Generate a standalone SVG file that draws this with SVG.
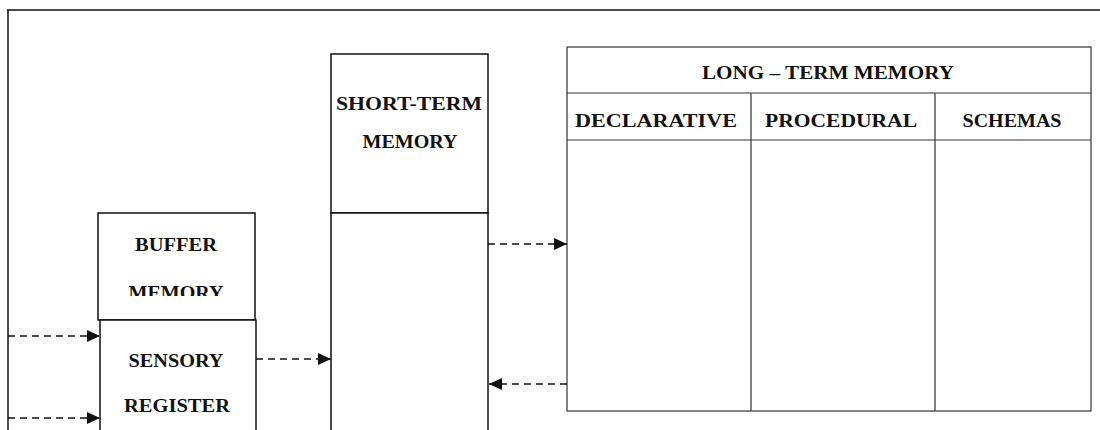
<svg xmlns="http://www.w3.org/2000/svg" width="1100" height="430" viewBox="0 0 1100 430">
  <defs>
    <style>
      .box { fill: #ffffff; stroke: #111111; stroke-width: 1.5; }
      .thin { fill: none; stroke: #333333; stroke-width: 1.2; }
      .lbl { font-family: "Liberation Serif", "Times New Roman", serif; font-weight: bold; font-size: 19px; fill: #111111; text-anchor: middle; }
      .dash { fill: none; stroke: #111111; stroke-width: 1.5; stroke-dasharray: 7 5; }
    </style>
    <marker id="ah" viewBox="0 0 13 12" refX="13" refY="6" markerWidth="13" markerHeight="12" markerUnits="userSpaceOnUse" orient="auto">
      <path d="M0,0 L13,6 L0,12 Z" fill="#111111"/>
    </marker>
    <clipPath id="bufclip">
      <rect x="98" y="213" width="157" height="83"/>
    </clipPath>
  </defs>
  <rect x="0" y="0" width="1100" height="430" fill="#ffffff"/>

  <g id="frame">
    <path d="M7,10 H1100 M8,10 V430" class="box" fill="none"/>
  </g>

  <g id="buffer-memory">
    <rect x="98" y="213" width="157" height="107" class="box"/>
    <text class="lbl" x="176" y="251" textLength="82" lengthAdjust="spacingAndGlyphs">BUFFER</text>
    <text class="lbl" x="176" y="299" textLength="95" lengthAdjust="spacingAndGlyphs" clip-path="url(#bufclip)">MEMORY</text>
  </g>

  <g id="sensory-register">
    <rect x="100" y="320" width="156" height="120" class="box"/>
    <text class="lbl" x="176" y="367" textLength="95" lengthAdjust="spacingAndGlyphs">SENSORY</text>
    <text class="lbl" x="177" y="412" textLength="106" lengthAdjust="spacingAndGlyphs">REGISTER</text>
  </g>

  <g id="short-term-memory">
    <rect x="331" y="54" width="157" height="159" class="box"/>
    <rect x="331" y="213" width="157" height="230" class="box"/>
    <text class="lbl" x="409" y="110" textLength="146" lengthAdjust="spacingAndGlyphs">SHORT-TERM</text>
    <text class="lbl" x="410" y="148" textLength="95" lengthAdjust="spacingAndGlyphs">MEMORY</text>
  </g>

  <g id="long-term-memory">
    <rect x="567" y="47" width="524" height="364" class="thin" fill="#ffffff"/>
    <path d="M567,93 H1091 M567,140 H1091 M751,93 V411 M935,93 V411" class="thin"/>
    <text class="lbl" x="828" y="79" textLength="252" lengthAdjust="spacingAndGlyphs">LONG – TERM MEMORY</text>
    <text class="lbl" x="656" y="127" textLength="162" lengthAdjust="spacingAndGlyphs">DECLARATIVE</text>
    <text class="lbl" x="841" y="127" textLength="152" lengthAdjust="spacingAndGlyphs">PROCEDURAL</text>
    <text class="lbl" x="1012" y="127" textLength="99" lengthAdjust="spacingAndGlyphs">SCHEMAS</text>
  </g>

  <g id="connectors">
    <path d="M8,336 H100" class="dash" marker-end="url(#ah)"/>
    <path d="M8,418 H100" class="dash" marker-end="url(#ah)"/>
    <path d="M256,359 H331" class="dash" marker-end="url(#ah)"/>
    <path d="M488,244 H567" class="dash" marker-end="url(#ah)"/>
    <path d="M567,384 H489" class="dash" marker-end="url(#ah)"/>
  </g>
</svg>
